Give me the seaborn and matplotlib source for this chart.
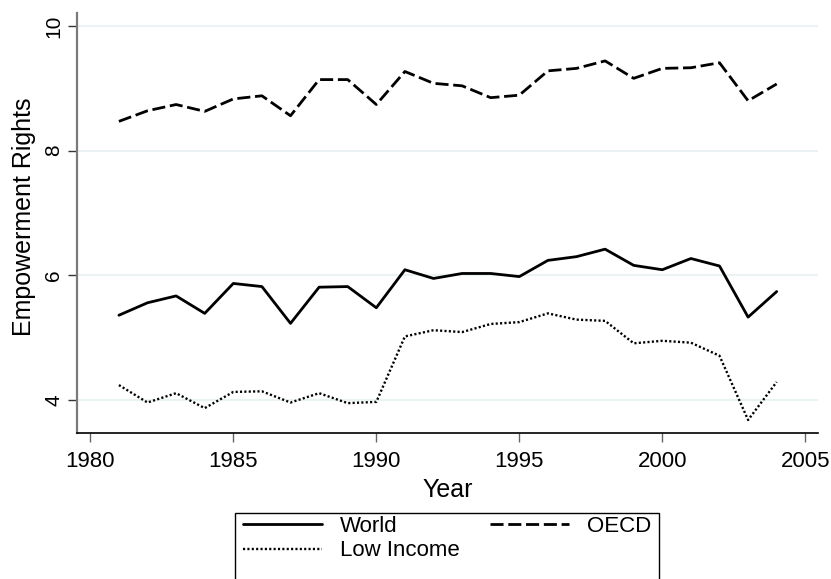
import matplotlib
matplotlib.use("Agg")
import matplotlib.pyplot as plt
from matplotlib.patches import Rectangle
import seaborn as sns
import pandas as pd

years = list(range(1981, 2005))
world = [5.36, 5.56, 5.67, 5.39, 5.87, 5.82, 5.23, 5.81, 5.82, 5.48, 6.09, 5.95,
         6.03, 6.03, 5.98, 6.24, 6.30, 6.42, 6.16, 6.09, 6.27, 6.15, 5.33, 5.74]
oecd = [8.47, 8.64, 8.74, 8.63, 8.83, 8.88, 8.56, 9.14, 9.14, 8.74, 9.27, 9.08,
        9.04, 8.85, 8.89, 9.28, 9.32, 9.44, 9.16, 9.32, 9.33, 9.41, 8.80, 9.07]
low_income = [4.24, 3.96, 4.11, 3.87, 4.13, 4.14, 3.96, 4.11, 3.95, 3.97, 5.02, 5.12,
              5.09, 5.22, 5.25, 5.39, 5.29, 5.27, 4.91, 4.95, 4.92, 4.71, 3.68, 4.29]
series_names = ["World", "OECD", "Low Income"]
x_ticks = [1980, 1985, 1990, 1995, 2000, 2005]
y_ticks = [4, 6, 8, 10]

sns.set_style("white")
plt.rcParams["font.family"] = ["Liberation Sans", "DejaVu Sans"]
plt.rcParams.update({"text.color": "black", "axes.labelcolor": "black",
                     "xtick.color": "black", "ytick.color": "black"})

W, H = 831, 579
fig = plt.figure(figsize=(W / 100, H / 100), dpi=100)
ax = fig.add_axes([77.3 / W, 1 - 432.7 / H, (818 - 77.3) / W, (432.7 - 12.7) / H])

df = pd.DataFrame({"Year": years, "World": world, "OECD": oecd, "Low Income": low_income})

sns.lineplot(data=df, x="Year", y="World", ax=ax, color="black", lw=2.0,
             linestyle="-", label="World")
sns.lineplot(data=df, x="Year", y="OECD", ax=ax, color="black", lw=2.0,
             linestyle=(0, (4.7, 1.7)), label="OECD")
sns.lineplot(data=df, x="Year", y="Low Income", ax=ax, color="black", lw=1.7,
             linestyle=(0, (0.9, 0.95)), label="Low Income")

ax.get_legend().remove()

ax.set_xlim(1979.545, 2005.444)
ax.set_ylim(3.476, 10.213)
ax.set_xticks(x_ticks)
ax.set_yticks(y_ticks)
ax.set_xticklabels([str(t) for t in x_ticks], fontsize=16)
ax.set_yticklabels([str(t) for t in y_ticks], fontsize=15, rotation=90, va="center")

for y in y_ticks:
    ax.axhline(y, color="#EAF2F3", lw=1.5, zorder=0)

for s in ["top", "right"]:
    ax.spines[s].set_visible(False)
ax.spines["left"].set_color("#7a7a7a")
ax.spines["left"].set_linewidth(1.6)
ax.spines["bottom"].set_color("black")
ax.spines["bottom"].set_linewidth(1.2)

ax.tick_params(axis="x", bottom=True, length=6.5, width=1.0, color="#666666", pad=7,
               labelcolor="black")
ax.tick_params(axis="y", left=True, length=6.5, width=1.0, color="#333333", pad=3.6,
               labelcolor="black")

ax.set_xlabel("Year", fontsize=18)
ax.xaxis.set_label_coords(0.5, -0.107)
ax.set_ylabel("Empowerment Rights", fontsize=18)
ax.yaxis.set_label_coords(-0.0551, 0.5136)

by_label = {h.get_label(): h for h in ax.get_lines() if h.get_label() in series_names}
order = ["World", "Low Income", "OECD"]
leg = fig.legend([by_label[k] for k in order], order, ncol=2, loc="upper left",
                 bbox_to_anchor=(243 / W, 1 - 515.5 / H), bbox_transform=fig.transFigure,
                 fontsize=16, frameon=False,
                 handlelength=3.56, handletextpad=0.81, columnspacing=1.34,
                 borderaxespad=0, borderpad=0, labelspacing=0.17)

frame = Rectangle((235 / W, -0.05), (659.3 - 235) / W, (1 - 513.3 / H) + 0.05,
                  transform=fig.transFigure, fill=False, edgecolor="black", lw=1.0,
                  clip_on=False)
fig.add_artist(frame)

fig.savefig("out.png", dpi=100)
